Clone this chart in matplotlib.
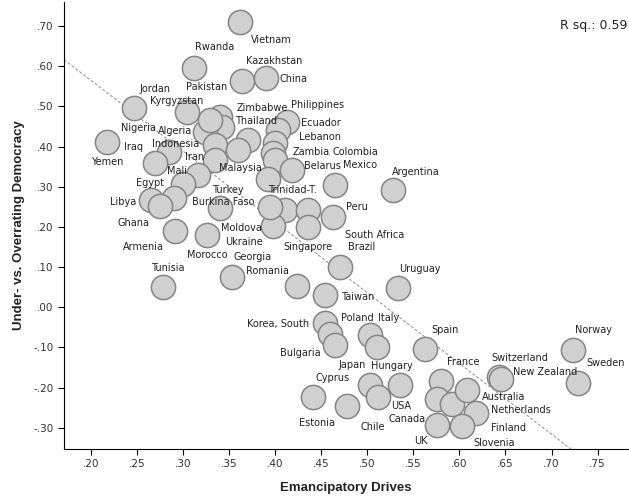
import numpy as np
import matplotlib
matplotlib.use("Agg")
import matplotlib.pyplot as plt
from matplotlib.ticker import FuncFormatter

# country scores
countries = [
    "Vietnam", "Rwanda", "Kazakhstan", "China", "Pakistan", "Jordan", "Kyrgyzstan",
    "Yemen", "Zimbabwe", "Thailand", "Algeria", "Indonesia", "Nigeria", "Iraq",
    "Iran", "Malaysia", "Philippines", "Ecuador", "Lebanon", "Zambia", "Colombia",
    "Belarus", "Trinidad-T.", "Mexico", "Argentina", "Mali", "Egypt", "Burkina Faso",
    "Libya", "Ghana", "Turkey", "Peru", "Ukraine", "Morocco", "Singapore",
    "South Africa", "Brazil", "Moldova", "Armenia", "Georgia", "Romania", "Tunisia",
    "Taiwan", "Uruguay", "Korea, South", "Poland", "Italy", "Bulgaria", "Japan",
    "Spain", "Cyprus", "Hungary", "USA", "Estonia", "Chile", "France", "Canada",
    "Finland", "Australia", "Netherlands", "UK", "Slovenia", "Switzerland",
    "New Zealand", "Norway", "Sweden", "", "",
]
emancipatory = [
    .362, .312, .364, .390, .340, .247, .305,
    .218, .371, .343, .324, .335, .285, .270,
    .335, .360, .413, .403, .400, .398, .400,
    .418, .392, .465, .528, .316, .300, .290,
    .266, .275, .340, .463, .411, .436, .398,
    .436, .471, .326, .292, .353, .424, .279,
    .454, .533, .454, .460, .503, .465, .511,
    .563, .503, .536, .512, .441, .478, .580, .576,
    .592, .608, .618, .576, .603, .643,
    .645, .723, .729, .330, .395,
]
democracy = [
    .710, .595, .563, .571, .473, .496, .486,
    .411, .416, .449, .436, .404, .386, .359,
    .366, .391, .461, .441, .409, .384, .366,
    .342, .319, .304, .292, .329, .307, .272,
    .267, .252, .247, .225, .242, .242, .202,
    .200, .100, .180, .190, .075, .053, .050,
    .030, .048, -.039, -.067, -.069, -.094, -.099,
    -.104, -.194, -.194, -.224, -.224, -.246, -.184, -.229,
    -.241, -.206, -.263, -.293, -.296, -.174,
    -.179, -.107, -.189, .466, .249,
]
r_squared = 0.59

# label placement, offset from the point in pixels (x right, y down)
label_offsets = {
    "Vietnam": (31, 18), "Rwanda": (21, -21), "Kazakhstan": (32, -20), "China": (28, 1),
    "Pakistan": (-13, -30), "Jordan": (21, -19), "Kyrgyzstan": (-11, -11), "Yemen": (0, 20),
    "Zimbabwe": (14, -32), "Thailand": (34, -6), "Algeria": (-30, -1), "Indonesia": (-39, -1),
    "Nigeria": (-31, -24), "Iraq": (-22, -16), "Iran": (-21, -3), "Malaysia": (2, 18),
    "Philippines": (31, -17), "Ecuador": (43, -7), "Lebanon": (45, -6), "Zambia": (38, -1),
    "Colombia": (80, -8), "Belarus": (31, -4), "Trinidad-T.": (25, 11), "Mexico": (25, -20),
    "Argentina": (23, -18), "Mali": (-21, -4), "Egypt": (-33, -1), "Burkina Faso": (50, 4),
    "Libya": (-28, 2), "Ghana": (-26, 17), "Turkey": (8, -18), "Peru": (24, -10),
    "Ukraine": (-41, 32), "Morocco": (-101, 45), "Singapore": (35, 21), "South Africa": (66, 8),
    "Brazil": (21, -20), "Moldova": (35, -7), "Armenia": (-32, 16), "Georgia": (21, -20),
    "Romania": (-30, -15), "Tunisia": (4, -19), "Taiwan": (33, 2), "Uruguay": (22, -19),
    "Korea, South": (-47, 1), "Poland": (27, -16), "Italy": (19, -17), "Bulgaria": (-35, 8),
    "Japan": (-25, 18), "Spain": (20, -19), "Cyprus": (-37, -7), "Hungary": (-9, -19),
    "USA": (23, 9), "Estonia": (4, 26), "Chile": (26, 21), "France": (22, -19),
    "Canada": (-30, 20), "Finland": (56, 24), "Australia": (37, 7), "Netherlands": (45, -3),
    "UK": (-16, 16), "Slovenia": (32, 17), "Switzerland": (21, -19), "New Zealand": (44, -7),
    "Norway": (21, -20), "Sweden": (27, -20),
}

x = np.array(emancipatory)
y = np.array(democracy)

fig = plt.figure(figsize=(6.29, 4.99), dpi=100)
ax = fig.add_axes([64 / 629, 50 / 499, 564 / 629, 447 / 499])

ax.set_xlim(0.1711, 0.7829)
ax.set_ylim(-0.353, 0.760)

# fit line
slope, icpt = np.polyfit(x, y, 1)
xx = np.array(ax.get_xlim())
ax.plot(xx, icpt + slope * xx, color="#8c8c8c", lw=0.7,
        linestyle=(0, (3, 2)), zorder=1)

ax.scatter(x, y, s=305, facecolor="#d0d0d0", edgecolor="#858585",
           linewidth=1.1, zorder=2)

for name, xi, yi in zip(countries, x, y):
    if not name:
        continue
    dx, dy = label_offsets[name]
    ax.annotate(name, (xi, yi), xytext=(dx, -dy), textcoords="offset pixels",
                ha="center", va="center", fontsize=7, color="#222222", zorder=3)

fmt = FuncFormatter(lambda v, p: f"{v:.2f}".replace("0.", ".", 1))
ax.set_xticks(np.arange(0.20, 0.751, 0.05))
ax.set_yticks(np.arange(-0.30, 0.701, 0.10))
ax.xaxis.set_major_formatter(fmt)
ax.yaxis.set_major_formatter(fmt)
ax.tick_params(labelsize=7.5, labelcolor="#333333", length=4, width=0.8)

for side in ["top", "right"]:
    ax.spines[side].set_visible(False)
for side in ["left", "bottom"]:
    ax.spines[side].set_linewidth(0.8)

ax.set_xlabel("Emancipatory Drives", fontsize=9.5, fontweight="bold",
              family="Liberation Sans", color="#222222", labelpad=9)
ax.set_ylabel("Under- vs. Overrating Democracy", fontsize=9.5, fontweight="bold",
              family="Liberation Sans", color="#222222", labelpad=6)

fig.text(627 / 629, 1 - 25 / 499, f"R sq.: {r_squared:.2f}", ha="right", va="center",
         fontsize=9, color="#222222")

fig.savefig("out.png", dpi=100)
